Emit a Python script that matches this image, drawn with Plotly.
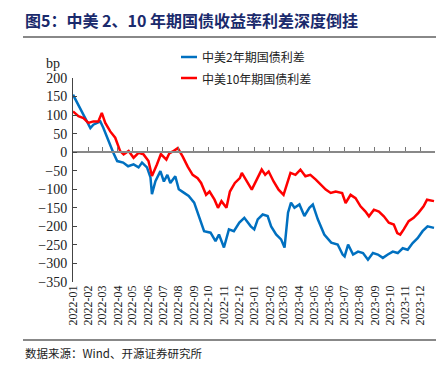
import plotly.graph_objects as go

# ---------------- data (bp) ----------------
dates_2y = ["2022-01-01","2022-01-15","2022-01-25","2022-02-05","2022-02-11","2022-02-25",
            "2022-03-03","2022-03-13","2022-03-23","2022-03-31","2022-04-12","2022-04-22",
            "2022-05-03","2022-05-13","2022-05-20","2022-05-30","2022-06-06","2022-06-09",
            "2022-06-16","2022-06-26","2022-07-03","2022-07-10","2022-07-16","2022-07-26",
            "2022-08-02","2022-08-12","2022-08-22","2022-09-02","2022-09-12","2022-09-22",
            "2022-10-05","2022-10-15","2022-10-22","2022-11-01","2022-11-11","2022-11-21",
            "2022-12-02","2022-12-12","2022-12-25","2023-01-01","2023-01-08","2023-01-18",
            "2023-01-28","2023-02-04","2023-02-14","2023-02-24","2023-03-03","2023-03-10",
            "2023-03-16","2023-03-23","2023-04-02","2023-04-12","2023-04-22","2023-04-29",
            "2023-05-09","2023-05-22","2023-06-05","2023-06-18","2023-06-28","2023-07-02",
            "2023-07-09","2023-07-19","2023-07-29","2023-08-08","2023-08-18","2023-08-28",
            "2023-09-07","2023-09-17","2023-09-27","2023-10-07","2023-10-17","2023-10-27",
            "2023-11-06","2023-11-16","2023-11-26","2023-12-06","2023-12-16","2023-12-29"]
spread_2y = [155, 119, 93, 65, 74, 83,
             66, 30, -1, -24, -28, -38,
             -33, -41, -28, -41, -68, -113,
             -78, -51, -79, -61, -83, -65,
             -100, -109, -118, -136, -172, -213,
             -217, -240, -222, -257, -208, -213,
             -190, -177, -200, -208, -181, -168,
             -172, -200, -222, -235, -257, -163,
             -136, -150, -141, -172, -150, -141,
             -181, -222, -244, -249, -276, -281,
             -249, -276, -268, -272, -290, -272,
             -276, -285, -276, -268, -272, -259,
             -263, -245, -232, -213, -200, -204]

dates_10y = ["2022-01-01","2022-01-12","2022-01-22","2022-02-01","2022-02-11","2022-02-21",
             "2022-02-28","2022-03-07","2022-03-17","2022-03-27","2022-04-06","2022-04-13",
             "2022-04-23","2022-05-03","2022-05-13","2022-05-23","2022-06-02","2022-06-09",
             "2022-06-19","2022-06-27","2022-07-08","2022-07-14","2022-07-21","2022-07-31",
             "2022-08-10","2022-08-20","2022-08-30","2022-09-09","2022-09-16","2022-09-26",
             "2022-10-03","2022-10-13","2022-10-20","2022-10-27","2022-11-06","2022-11-13",
             "2022-11-23","2022-12-03","2022-12-07","2022-12-17","2022-12-27","2023-01-06",
             "2023-01-16","2023-01-23","2023-01-30","2023-02-09","2023-02-19","2023-03-01",
             "2023-03-08","2023-03-15","2023-03-25","2023-04-04","2023-04-14","2023-04-24",
             "2023-05-05","2023-05-15","2023-05-25","2023-06-04","2023-06-14","2023-06-27",
             "2023-07-04","2023-07-14","2023-07-24","2023-08-03","2023-08-13","2023-08-20",
             "2023-08-30","2023-09-09","2023-09-19","2023-09-29","2023-10-09","2023-10-16",
             "2023-10-22","2023-10-29","2023-11-08","2023-11-18","2023-11-28","2023-12-08",
             "2023-12-15","2023-12-29"]
spread_10y = [110, 97, 92, 79, 83, 83,
              106, 79, 56, 39, 3, -6,
              3, -15, -2, -6, -24, -64,
              -33, -5, -20, -3, 2, 11,
              -12, -39, -61, -70, -83, -115,
              -106, -128, -150, -132, -150, -106,
              -83, -70, -56, -79, -101, -74,
              -47, -61, -52, -79, -101, -115,
              -83, -56, -61, -47, -65, -61,
              -74, -88, -101, -110, -106, -110,
              -137, -115, -124, -146, -160, -173,
              -155, -160, -173, -190, -195, -218,
              -222, -208, -186, -177, -163, -146,
              -128, -132]

month_ticks = ["2022-%02d" % m for m in range(1, 13)] + ["2023-%02d" % m for m in range(1, 13)]
y_ticks = [200, 150, 100, 50, 0, -50, -100, -150, -200, -250, -300, -350]

name_2y = "中美2年期国债利差"
name_10y = "中美10年期国债利差"
title_text = "图5：中美 2、10 年期国债收益率利差深度倒挂"
source_text = "数据来源：Wind、开源证券研究所"

color_2y = "#0070C0"
color_10y = "#FF0000"

# ---------------- layout constants ----------------
W, H = 448, 373
ML, MR, MT, MB = 73, 13, 78, 91
PW, PH = W - ML - MR, H - MT - MB
def px_x(x): return (x - ML) / PW
def px_y(y): return (H - MB - y) / PH

serif = "Liberation Serif"
cjk = "Noto Sans CJK SC"

fig = go.Figure()
fig.add_trace(go.Scatter(x=dates_2y, y=spread_2y, mode="lines", name=name_2y,
                         line=dict(color=color_2y, width=2.5)))
fig.add_trace(go.Scatter(x=dates_10y, y=spread_10y, mode="lines", name=name_10y,
                         line=dict(color=color_10y, width=2.5)))

y0_frac = (0 - (-350)) / (200 - (-350))

fig.update_layout(
    width=W, height=H,
    margin=dict(l=ML, r=MR, t=MT, b=MB),
    paper_bgcolor="white", plot_bgcolor="white",
    showlegend=False,
    xaxis=dict(type="date", range=["2022-01-01", "2023-12-31"],
               tickvals=[t + "-01" for t in month_ticks], ticktext=month_ticks,
               tickangle=-90, showgrid=False, showline=False, zeroline=False,
               ticks="", tickfont=dict(family=serif, size=12, color="#222")),
    xaxis2=dict(type="date", range=["2022-01-01", "2023-12-31"], overlaying="x",
                anchor="free", position=y0_frac, side="bottom",
                tickvals=[t + "-01" for t in month_ticks], showticklabels=False,
                ticks="inside", ticklen=4, tickcolor="#777", tickwidth=1,
                showline=True, linecolor="#888", linewidth=2, showgrid=False, zeroline=False),
    yaxis=dict(range=[-350, 200], tickvals=y_ticks, showgrid=False, zeroline=False,
               showline=True, linecolor="#444", linewidth=1,
               ticks="inside", ticklen=4, tickcolor="#444",
               tickfont=dict(family=serif, size=14, color="#222"), ticklabelstandoff=2),
)
# dummy trace to activate xaxis2
fig.add_trace(go.Scatter(x=[dates_2y[0]], y=[None], xaxis="x2", showlegend=False,
                         hoverinfo="skip"))

# custom legend (short line samples as in the reference)
for name, col, ypx in [(name_2y, color_2y, 57), (name_10y, color_10y, 78)]:
    fig.add_shape(type="line", xref="paper", yref="paper", x0=px_x(181), x1=px_x(197),
                  y0=px_y(ypx), y1=px_y(ypx), line=dict(color=col, width=2.5))
    fig.add_annotation(text=name, xref="paper", yref="paper", x=px_x(200), y=px_y(ypx),
                       xanchor="left", yanchor="middle", showarrow=False,
                       font=dict(family=cjk, size=12, color="#222"))

fig.add_annotation(text="<b>" + title_text + "</b>", xref="paper", yref="paper",
                   x=px_x(23), y=px_y(20), xanchor="left", yanchor="middle", showarrow=False,
                   font=dict(family=cjk, size=16, color="#1A2A6C"))
fig.add_annotation(text="bp", xref="paper", yref="paper", x=px_x(62), y=px_y(63),
                   xanchor="right", yanchor="middle", showarrow=False,
                   font=dict(family=serif, size=14, color="#222"))
fig.add_annotation(text=source_text, xref="paper", yref="paper", x=px_x(23), y=px_y(353),
                   xanchor="left", yanchor="middle", showarrow=False,
                   font=dict(family=cjk, size=11.5, color="#222"))
fig.add_shape(type="line", xref="paper", yref="paper", x0=px_x(23), x1=px_x(436),
              y0=px_y(37), y1=px_y(37), line=dict(color="#888", width=2))
fig.add_shape(type="line", xref="paper", yref="paper", x0=px_x(23), x1=px_x(436),
              y0=px_y(340), y1=px_y(340), line=dict(color="#888", width=2))

fig.write_html("out.html", config={"displayModeBar": False},
               post_script="document.body.style.margin='0';")
